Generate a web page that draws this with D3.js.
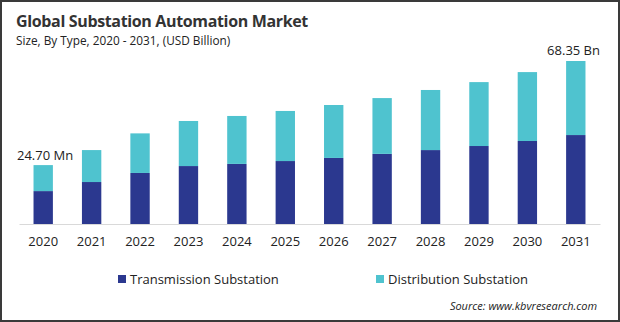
<!DOCTYPE html>
<html>
<head>
<meta charset="utf-8">
<script src="https://cdn.jsdelivr.net/npm/d3@7"></script>
<style>
  body { margin: 0; background: #fff; }
  svg { display: block; font-family: "Open Sans", "Noto Sans", sans-serif; }
</style>
</head>
<body>
<div class="chart"></div>
<script>
// data
var years = ['2020', '2021', '2022', '2023', '2024', '2025', '2026', '2027', '2028', '2029', '2030', '2031'];
var transmission = [13.8, 17.6, 21.4, 24.3, 25.2, 26.4, 27.7, 29.4, 31.0, 32.7, 34.8, 37.3];
var distribution = [10.9, 13.4, 16.6, 18.9, 20.1, 21.0, 22.2, 23.4, 25.2, 26.8, 28.9, 31.05];
var seriesNames = ['Transmission Substation', 'Distribution Substation'];
var colors = ['#2b388f', '#4fc3cf'];

var width = 620,
    height = 322;

var svg = d3.select('.chart').append('svg')
    .attr('width', width)
    .attr('height', height);

// outer frame
svg.append('rect')
    .attr('x', 1).attr('y', 1)
    .attr('width', width - 2).attr('height', height - 2)
    .attr('fill', '#fff')
    .attr('stroke', '#3a3a3a')
    .attr('stroke-width', 2);

// titles
svg.append('text')
    .attr('x', 16).attr('y', 27)
    .attr('font-size', 16).attr('font-weight', 700)
    .attr('letter-spacing', -0.35)
    .attr('fill', '#333')
    .text('Global Substation Automation Market');

svg.append('text')
    .attr('x', 16).attr('y', 45)
    .attr('font-size', 11.8)
    .attr('fill', '#222')
    .text('Size, By Type, 2020 - 2031, (USD Billion)');

// scales
var x = d3.scaleBand()
    .domain(years)
    .range([19, 600])
    .paddingInner(0.6)
    .paddingOuter(0.3);

var y = d3.scaleLinear()
    .domain([0, 68.35])
    .range([224, 61]);

var rows = years.map(function(yr, i) {
  return { year: yr, transmission: transmission[i], distribution: distribution[i] };
});
var stacked = d3.stack().keys(['transmission', 'distribution'])(rows);

svg.append('g')
  .selectAll('g')
  .data(stacked)
  .enter().append('g')
    .attr('fill', function(d, i) { return colors[i]; })
  .selectAll('rect')
  .data(function(d) { return d; })
  .enter().append('rect')
    .attr('x', function(d) { return x(d.data.year); })
    .attr('width', x.bandwidth())
    .attr('y', function(d) { return y(d[1]); })
    .attr('height', function(d) { return y(d[0]) - y(d[1]); });

// x axis
var xAxis = svg.append('g')
    .attr('transform', 'translate(0,224)')
    .call(d3.axisBottom(x).tickSize(0).tickPadding(13));
xAxis.select('.domain').attr('stroke', '#d9d9d9');
xAxis.selectAll('text')
    .attr('font-size', 13)
    .attr('font-family', '"Open Sans", sans-serif')
    .attr('fill', '#222');

// end labels
var first = transmission[0] + distribution[0];
var last = transmission[11] + distribution[11];
svg.append('text')
    .attr('x', 17).attr('y', y(first) - 5)
    .attr('font-size', 13).attr('fill', '#222')
    .text(first.toFixed(2) + ' Mn');
svg.append('text')
    .attr('x', 600).attr('y', y(last) - 6)
    .attr('text-anchor', 'end')
    .attr('font-size', 13).attr('fill', '#222')
    .text(last.toFixed(2) + ' Bn');

// legend
var legendX = [118, 376];
var legend = svg.append('g').selectAll('g')
    .data(seriesNames)
  .enter().append('g')
    .attr('transform', function(d, i) { return 'translate(' + legendX[i] + ',275)'; });
legend.append('rect')
    .attr('width', 8).attr('height', 8)
    .attr('fill', function(d, i) { return colors[i]; });
legend.append('text')
    .attr('x', 12).attr('y', 8.5)
    .attr('font-size', 13).attr('fill', '#222')
    .text(function(d) { return d; });

svg.append('text')
    .attr('x', 597).attr('y', 310)
    .attr('text-anchor', 'end')
    .attr('font-size', 11).attr('font-style', 'italic')
    .attr('fill', '#222')
    .text('Source: www.kbvresearch.com');
</script>
</body>
</html>
